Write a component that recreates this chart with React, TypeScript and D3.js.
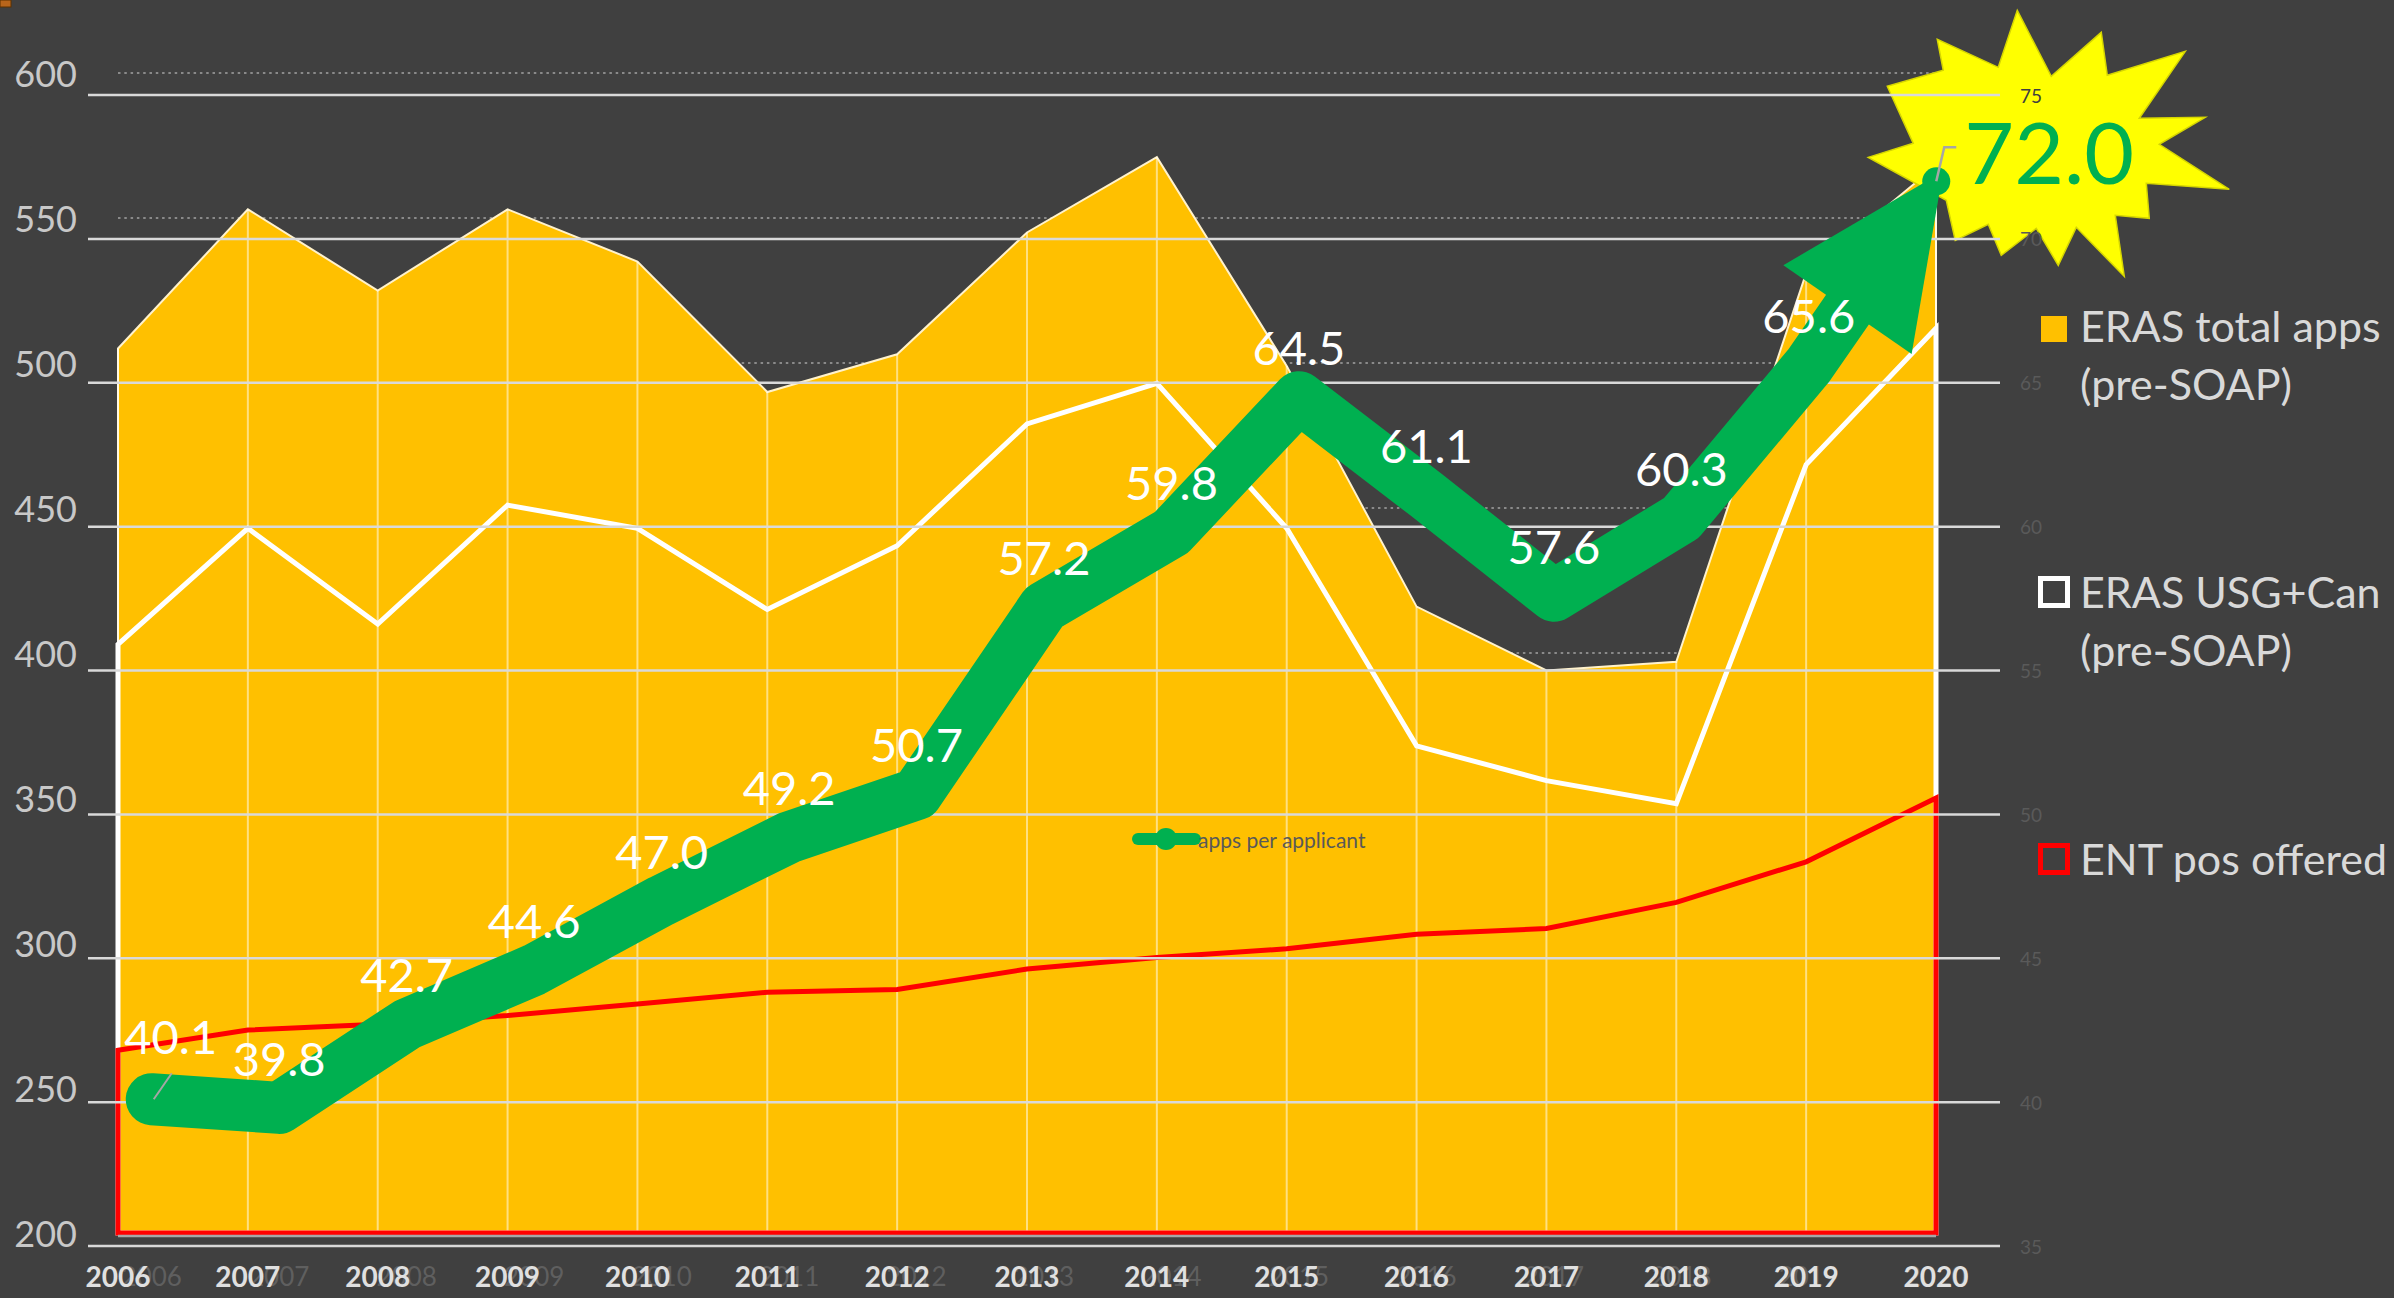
import React from 'react';
import * as d3 from 'd3';

// data
const years = [2006, 2007, 2008, 2009, 2010, 2011, 2012, 2013, 2014, 2015, 2016, 2017, 2018, 2019, 2020];
const erasTotalApps = [505, 553, 525, 553, 535, 490, 503, 545, 571, 499, 416, 394, 397, 531, 568];
const erasUsgCan = [403, 443, 410, 451, 443, 415, 437, 479, 493, 443, 368, 356, 348, 465, 512];
const entPosOffered = [263, 270, 272, 275, 279, 283, 284, 291, 295, 298, 303, 305, 314, 328, 350];
const appsPerApplicant = [40.1, 39.8, 42.7, 44.6, 47.0, 49.2, 50.7, 57.2, 59.8, 64.5, 61.1, 57.6, 60.3, 65.6, 72.0];

const leftTicks = [200, 250, 300, 350, 400, 450, 500, 550, 600];
const rightTicks = [35, 40, 45, 50, 55, 60, 65, 70, 75];

const legendLabels = [
  { lines: ['ERAS total apps', '(pre-SOAP)'], kind: 'fill', color: '#ffc000' },
  { lines: ['ERAS USG+Can', '(pre-SOAP)'], kind: 'hollow', color: '#ffffff' },
  { lines: ['ENT pos offered'], kind: 'hollow', color: '#ff0000' },
];

// explosion shape, offsets from its centre
const burstShape: [number, number][] = [
  [-29, -135], [5, -69], [55, -113], [61, -70], [139, -94], [93, -27], [159, -28], [113, -1],
  [183, 44], [100, 38], [103, 73], [69, 70], [78, 131], [30, 82], [12, 120], [-10, 83],
  [-45, 110], [-58, 79], [-91, 95], [-100, 55], [-178, 12], [-133, -2], [-159, -59], [-103, -75],
  [-109, -106], [-48, -78],
];

const W = 2394;
const H = 1298;
const FONT = "Lato, 'Noto Sans', sans-serif";
const GREEN = '#00b050';

export default function App() {
  // chart 1: areas on the left axis
  const x1 = d3.scalePoint<number>().domain(years).range([118, 1936]);
  const y1 = d3.scaleLinear().domain([200, 600]).range([1233, 73]);
  // chart 2: apps per applicant on the right axis
  const x2 = d3.scalePoint<number>().domain(years).range([88, 2000]).padding(0.5);
  const y2 = d3.scaleLinear().domain([35, 75]).range([1246, 95]);

  const areaGen = d3
    .area<number>()
    .x((_, i) => x1(years[i])!)
    .y0(y1(200))
    .y1(d => y1(d));

  const pts = appsPerApplicant.map((v, i) => [x2(years[i])!, y2(v)] as [number, number]);
  const n = pts.length;
  const end = pts[n - 1];
  const prev = pts[n - 2];
  const len = Math.hypot(end[0] - prev[0], end[1] - prev[1]);
  const u = [(end[0] - prev[0]) / len, (end[1] - prev[1]) / len];
  const nv = [-u[1], u[0]];
  const tip = [end[0] + u[0] * 12, end[1] + u[1] * 12];
  const base = [tip[0] - u[0] * 168, tip[1] - u[1] * 168];
  const arrow = [
    tip,
    [base[0] + nv[0] * 78, base[1] + nv[1] * 78],
    [base[0] - nv[0] * 78, base[1] - nv[1] * 78],
  ];
  const linePts = [...pts.slice(0, n - 1), base as [number, number]];
  const lineGen = d3.line<[number, number]>();

  const burstC = [end[0] + 110, end[1] - 36];

  return (
    <svg
      width={W}
      height={H}
      style={{ position: 'absolute', left: 0, top: 0, background: '#404040' }}
      fontFamily={FONT}
    >
      <rect x={0} y={0} width={W} height={H} fill="#404040" />
      <rect x={0} y={0} width={11} height={7} fill="#b8651b" stroke="#5a3000" strokeWidth={1} />

      {/* chart 1 dotted gridlines */}
      {leftTicks.slice(1).map(t => (
        <line key={t} x1={118} x2={1936} y1={y1(t)} y2={y1(t)} stroke="#8a8a8a" strokeWidth={2} strokeDasharray="2.5 3.8" />
      ))}

      {/* ERAS total apps */}
      <path d={areaGen(erasTotalApps)!} fill="#ffc000" stroke="#fff2cc" strokeWidth={2} />
      {years.map((yr, i) => (
        <line key={yr} x1={x1(yr)} x2={x1(yr)} y1={y1(erasTotalApps[i])} y2={y1(200)} stroke="rgba(255,255,255,0.5)" strokeWidth={2} />
      ))}
      {/* ERAS USG+Can (outline only) */}
      <path d={areaGen(erasUsgCan)!} fill="none" stroke="#ffffff" strokeWidth={5} />
      {/* ENT positions (outline only) */}
      <path d={areaGen(entPosOffered)!} fill="none" stroke="#ff0000" strokeWidth={5} />
      <line x1={118} x2={1936} y1={1236} y2={1236} stroke="#a6a6a6" strokeWidth={2.5} />

      {leftTicks.map(t => (
        <text key={t} x={77} y={y1(t)} textAnchor="end" dominantBaseline="central" fontSize={36} fill="#c8c8c8">
          {t}
        </text>
      ))}

      {/* explosion */}
      <polygon
        points={burstShape.map(([dx, dy]) => `${burstC[0] + dx},${burstC[1] + dy}`).join(' ')}
        fill="#ffff00"
        stroke="#d6d600"
        strokeWidth={1.5}
      />

      {/* chart 2 gridlines and axis */}
      {rightTicks.map(t => (
        <line key={t} x1={88} x2={2000} y1={y2(t)} y2={y2(t)} stroke="#d9d9d9" strokeWidth={2.5} />
      ))}
      {rightTicks.map(t => (
        <text key={t} x={2020} y={y2(t)} dominantBaseline="central" fontSize={19} fill={t === 75 ? '#404040' : '#5a5a5a'}>
          {t}
        </text>
      ))}
      {years.map(yr => (
        <text key={'g' + yr} x={x2(yr)} y={1276} textAnchor="middle" dominantBaseline="central" fontSize={26} fill="#5f5f5f">
          {yr}
        </text>
      ))}
      {years.map(yr => (
        <text key={yr} x={x1(yr)} y={1276} textAnchor="middle" dominantBaseline="central" fontSize={28} fontWeight="bold" fill="#e0e0e0">
          {yr}
        </text>
      ))}

      {/* apps per applicant */}
      <path d={lineGen(linePts)!} fill="none" stroke={GREEN} strokeWidth={52} strokeLinejoin="round" strokeLinecap="round" />
      <polygon points={arrow.map(p => p.join(',')).join(' ')} fill={GREEN} />
      <circle cx={end[0]} cy={end[1]} r={14} fill={GREEN} />

      <line x1={pts[0][0] + 2} y1={pts[0][1]} x2={pts[0][0] + 20} y2={pts[0][1] - 26} stroke="#a6a6a6" strokeWidth={2} />
      <polyline
        points={`${end[0]},${end[1]} ${end[0] + 8},${end[1] - 34} ${end[0] + 20},${end[1] - 34}`}
        fill="none"
        stroke="#a6a6a6"
        strokeWidth={2.5}
      />
      {pts.slice(0, n - 1).map(([px, py], i) => (
        <text
          key={i}
          x={i === 0 ? px + 19 : px}
          y={i === 0 ? py - 63 : py - 50}
          textAnchor="middle"
          dominantBaseline="central"
          fontSize={47}
          fill="#ffffff"
        >
          {appsPerApplicant[i].toFixed(1)}
        </text>
      ))}
      <text x={end[0] + 113} y={end[1] - 31} textAnchor="middle" dominantBaseline="central" fontSize={86} fill={GREEN}>
        {appsPerApplicant[n - 1].toFixed(1)}
      </text>

      {/* small legend inside plot */}
      <line x1={1138} x2={1195} y1={839} y2={839} stroke={GREEN} strokeWidth={12} strokeLinecap="round" />
      <circle cx={1166} cy={839} r={11} fill={GREEN} />
      <text x={1198} y={839} dominantBaseline="central" fontSize={21} fill="#595959">
        apps per applicant
      </text>

      {/* right legend */}
      {legendLabels.map((item, k) => {
        const baseY = [342, 608, 875][k];
        return (
          <g key={k}>
            {item.kind === 'fill' ? (
              <rect x={2041} y={baseY - 26} width={26} height={26} fill={item.color} />
            ) : (
              <rect x={2040.5} y={baseY - 29.5} width={27} height={27} fill="none" stroke={item.color} strokeWidth={5} />
            )}
            {item.lines.map((ln, j) => (
              <text key={j} x={2080} y={baseY + j * 58} fontSize={43} fill="#d9d9d9">
                {ln}
              </text>
            ))}
          </g>
        );
      })}
    </svg>
  );
}
